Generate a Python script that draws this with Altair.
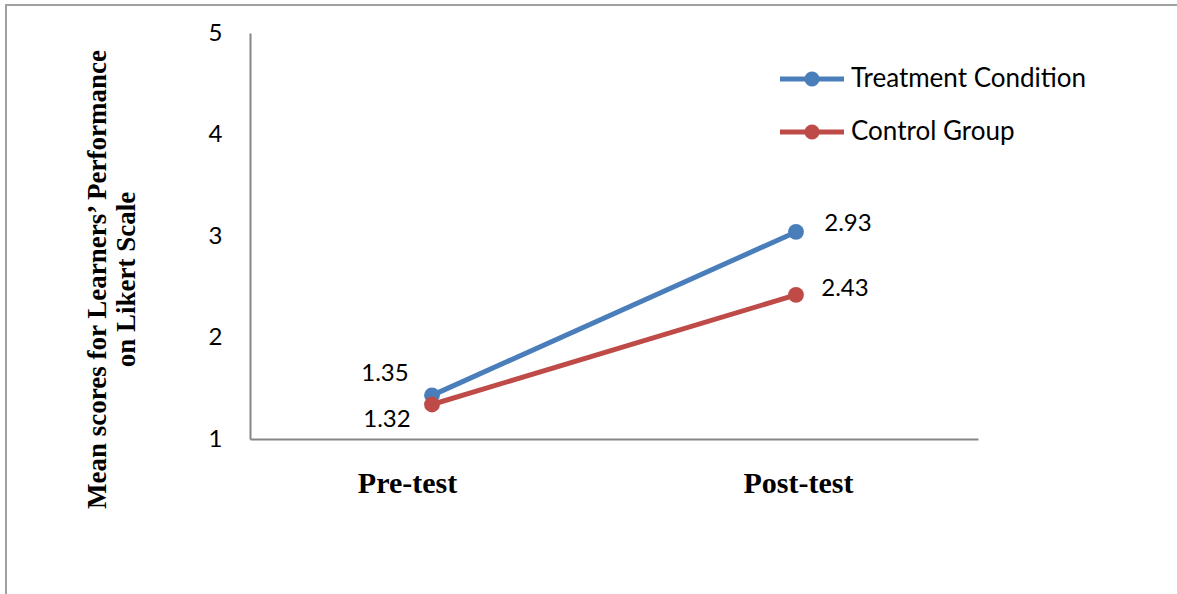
import math
import altair as alt
import pandas as pd

tests = ["Pre-test", "Post-test"]
series = ["Treatment Condition", "Control Group"]
treatment_vals = [1.43, 3.04]
control_vals = [1.34, 2.42]
treatment_labels = ["1.35", "2.93"]
control_labels = ["1.32", "2.43"]
colors = ["#4A7EBB", "#BE4B48"]

rows = []
for t, v, l in zip(tests, treatment_vals, treatment_labels):
    rows.append({"Test": t, "Series": series[0], "Value": v, "Label": l})
for t, v, l in zip(tests, control_vals, control_labels):
    rows.append({"Test": t, "Series": series[1], "Value": v, "Label": l})
df = pd.DataFrame(rows)

x_enc = alt.X("Test:N", sort=tests,
              scale=alt.Scale(type="point", padding=0.5),
              axis=alt.Axis(title=None, labelAngle=0, labelFont="Liberation Serif",
                            labelFontWeight="bold", labelFontSize=30, labelColor="black",
                            labelPadding=29, ticks=False, domainColor="#868686",
                            domainWidth=2,
                            labelOffset={"condition": {"test": "datum.value === 'Pre-test'",
                                                       "value": -25},
                                         "value": 2}))
y_enc = alt.Y("Value:Q", scale=alt.Scale(domain=[1, 5], nice=False, zero=False),
              axis=alt.Axis(values=[1, 2, 3, 4, 5], format="d", ticks=False, grid=False,
                            labelFont="Lato", labelFontSize=24, labelColor="black",
                            labelPadding=28, domainColor="#868686", domainWidth=2,
                            title=["Mean scores for Learners\u2019 Performance", "on Likert Scale"],
                            titleFont="Liberation Serif", titleFontWeight="bold",
                            titleFontSize=27, titleColor="black", titleAngle=270,
                            titleX=-153, titleY=246, titleAlign="center",
                            titleBaseline="middle", titleLineHeight=29))

base = alt.Chart(df)

lines = [
    base.transform_filter(alt.datum.Series == s).mark_line(strokeWidth=5, color=c).encode(
        x=x_enc, y=y_enc)
    for s, c in zip(series, colors)
]

# legend glyph: a bar with a dot in the middle (polygon circle, no arcs)
r = 0.47
circle_pts = " ".join(
    ("M" if i == 0 else "L") + f"{r * math.cos(2 * math.pi * i / 24):.3f},{r * math.sin(2 * math.pi * i / 24):.3f}"
    for i in range(24)
)
legend_path = "M-2,-0.16L2,-0.16L2,0.16L-2,0.16Z " + circle_pts + "Z"

points = base.mark_point(filled=True, size=250, opacity=1).encode(
    x=x_enc, y=y_enc,
    color=alt.Color("Series:N", scale=alt.Scale(domain=series, range=colors),
                    legend=alt.Legend(title=None, orient="none", legendX=530, legendY=30,
                                      symbolType=legend_path, symbolSize=1024,
                                      symbolOffset=16, labelOffset=23,
                                      symbolStrokeWidth=0, symbolOpacity=1,
                                      rowPadding=24, padding=0,
                                      labelFont="Lato", labelFontSize=26,
                                      labelColor="black", labelLimit=400)))

def label_layer(s, t, dx, dy):
    return base.transform_filter(
        (alt.datum.Series == s) & (alt.datum.Test == t)
    ).mark_text(font="Lato", fontSize=24, color="black", dx=dx, dy=dy,
                align="center", baseline="middle").encode(
        x=x_enc, y=y_enc, text="Label:N")

labels = [
    label_layer(series[0], tests[0], -47, -21),
    label_layer(series[1], tests[0], -45, 16),
    label_layer(series[0], tests[1], 52, -8),
    label_layer(series[1], tests[1], 49, -6),
]

frame_data = alt.Data(values=[{"a": 1}])
top_border = alt.Chart(frame_data).mark_rule(color="#A0A0A0", strokeWidth=2).encode(
    x=alt.value(-245), x2=alt.value(927), y=alt.value(-28))
left_border = alt.Chart(frame_data).mark_rule(color="#A0A0A0", strokeWidth=2).encode(
    x=alt.value(-244), y=alt.value(-28), y2=alt.value(561))

chart = alt.layer(top_border, left_border, *lines, points, *labels).properties(
    width=728, height=406,
    autosize=alt.AutoSizeParams(type="none"),
    padding={"left": 250, "top": 33, "right": 199, "bottom": 155},
    background="white",
).configure_view(stroke=None)

chart.save("out.html", embed_options={"renderer": "svg", "actions": False})
